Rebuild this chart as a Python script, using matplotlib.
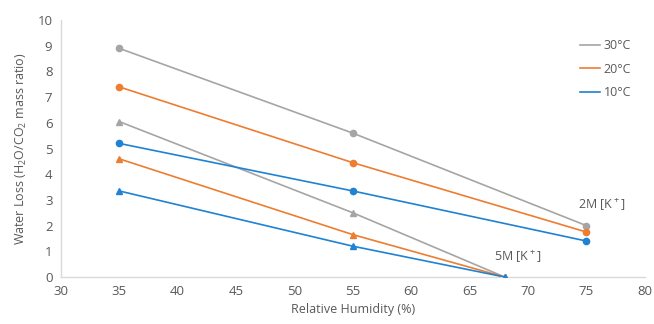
import matplotlib
matplotlib.use("Agg")
import matplotlib.pyplot as plt
from matplotlib.lines import Line2D

plt.rcParams['font.family'] = ['Open Sans', 'DejaVu Sans']
plt.rcParams['mathtext.default'] = 'regular'

x_2m = [35, 55, 75]
x_5m = [35, 55, 68]
series_names = ['30°C', '20°C', '10°C']
colors = ['#A5A5A5', '#ED7D31', '#1F82D2']
y_2m = {'30°C': [8.9, 5.6, 2.0], '20°C': [7.4, 4.45, 1.75], '10°C': [5.2, 3.35, 1.4]}
y_5m = {'30°C': [6.05, 2.5, 0.0], '20°C': [4.6, 1.65, 0.0], '10°C': [3.35, 1.2, 0.0]}
xticks = list(range(30, 81, 5))
yticks = list(range(0, 11))

txt = '#595959'
fig = plt.figure(figsize=(6.54, 3.24), dpi=100)
ax = fig.add_axes([0.093, 0.145, 0.893, 0.793])

for name, c in zip(series_names, colors):
    ax.plot(x_2m, y_2m[name], color=c, lw=1.2, marker='o', ms=4.5, zorder=3)
    ax.plot(x_5m, y_5m[name], color=c, lw=1.2, marker='^', ms=4.5, zorder=3)

ax.set_xlim(30, 80)
ax.set_ylim(0, 10)
ax.set_xticks(xticks)
ax.set_yticks(yticks)
for s in ['top', 'right']:
    ax.spines[s].set_visible(False)
for s in ['left', 'bottom']:
    ax.spines[s].set_color('#D9D9D9')
    ax.spines[s].set_linewidth(1.0)
ax.tick_params(length=0, labelsize=9.5, colors=txt, pad=6)
ax.set_xlabel('Relative Humidity (%)', fontsize=9, color=txt, labelpad=3)
ax.set_ylabel('Water Loss (H$_2$O/CO$_2$ mass ratio)', fontsize=9, color=txt, labelpad=6)

ax.text(74.3, 2.8, '2M [K$^+$]', fontsize=9, color=txt, va='center', ha='left')
ax.text(67.1, 0.78, '5M [K$^+$]', fontsize=9, color=txt, va='center', ha='left')

handles = [Line2D([0], [0], color=c, lw=1.2) for c in colors]
leg = ax.legend(handles, series_names, loc='upper left', bbox_to_anchor=(0.87, 0.97),
                frameon=False, fontsize=9, handlelength=1.6, handletextpad=0.3,
                labelspacing=0.85, labelcolor=txt)

fig.savefig('out.png', dpi=100)
